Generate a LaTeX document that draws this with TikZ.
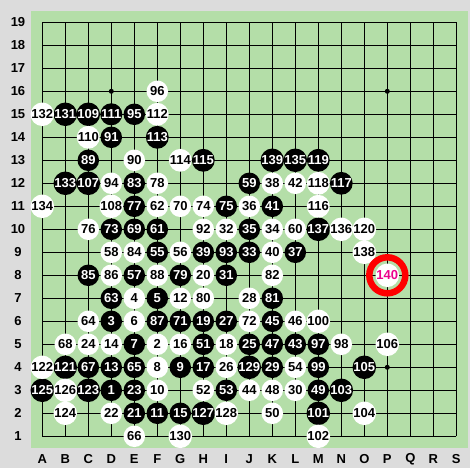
\documentclass[tikz,border=0pt]{standalone}
\usepackage{fontspec}
\setmainfont{Liberation Sans}
\definecolor{boardgreen}{RGB}{180,222,168}
\definecolor{framegray}{RGB}{220,220,220}

\begin{document}
\begin{tikzpicture}[
        x=1pt, y=1pt,
        stone/.style={circle, minimum size=21.5pt, inner sep=0pt, font=\fontsize{13}{13}\selectfont\bfseries},
        bstone/.style={stone, fill=black, text=white},
        wstone/.style={stone, fill=white, text=black},
        coordlabel/.style={font=\fontsize{13}{13}\selectfont\bfseries},
        gridline/.style={line width=1pt},
        hoshi/.style={circle, fill=black, inner sep=0pt, minimum size=5pt},
        lastmark/.style={circle, draw=red, line width=6.5pt, inner sep=0pt, minimum size=36pt}
    ]
        \useasboundingbox (-42.3,-31.7) rectangle (427.7,436.3);
        \fill[framegray] (-42.3,-31.7) rectangle (427.7,436.3);
        \fill[boardgreen] (-11.3,-11.7) rectangle (425.7,425.3);
        \foreach \i in {0,...,18} {
            \draw[gridline] (23*\i,0) -- (23*\i,414);
            \draw[gridline] (0,23*\i) -- (414,23*\i);
        }
        \foreach \c [count=\i from 0] in {A,B,C,D,E,F,G,H,I,J,K,L,M,N,O,P,Q,R,S} {
            \foreach \r in {1,...,19}
                \coordinate (\c\r) at (23*\i,23*\r-23);
            \node[coordlabel] (col\c) at (23*\i,-22.7) {\c};
        }
        \foreach \r in {1,...,19}
            \node[coordlabel] (row\r) at (-24.3,23*\r-23) {\r};
        \foreach \p in {D16,P16,D4,P4}
            \node[hoshi] (hoshi\p) at (\p) {};
        \foreach \p/\n in {D3/1, D6/3, F7/5, E5/7, G4/9, F2/11, D4/13, G2/15, H4/17, H6/19,
                E2/21, E3/23, J5/25, I6/27, K4/29, I8/31, J9/33, J10/35, L9/37, H9/39,
                K11/41, L5/43, K6/45, K5/47, M3/49, H5/51, I3/53, F9/55, E8/57, J12/59,
                F10/61, D7/63, E4/65, C4/67, E10/69, G6/71, D10/73, I11/75, E11/77, G8/79,
                K7/81, E12/83, C8/85, F6/87, C13/89, D14/91, I9/93, E15/95, M5/97, M4/99,
                M2/101, N3/103, O4/105, C12/107, C15/109, D15/111, F14/113, H13/115, N12/117, M13/119,
                B4/121, C3/123, A3/125, H2/127, J4/129, B15/131, B12/133, L13/135, M10/137, K13/139}
            \node[bstone] (s\n) at (\p) {\n};
        \foreach \p/\n in {F5/2, E7/4, E6/6, F4/8, F3/10, G7/12, D5/14, G5/16, I5/18, H8/20,
                D2/22, C5/24, I4/26, J7/28, L3/30, I10/32, K10/34, J11/36, K12/38, K9/40,
                L12/42, J3/44, L6/46, K3/48, K2/50, H3/52, L4/54, G9/56, D9/58, L10/60,
                F11/62, C6/64, E1/66, B5/68, G11/70, J6/72, H11/74, C10/76, F12/78, H7/80,
                K8/82, E9/84, D8/86, F8/88, E13/90, H10/92, D12/94, F16/96, N5/98, M6/100,
                M1/102, O2/104, P5/106, D11/108, C14/110, F15/112, G13/114, M11/116, M12/118, O10/120,
                A4/122, B2/124, B3/126, I2/128, G1/130, A15/132, A11/134, N10/136, O9/138}
            \node[wstone] (s\n) at (\p) {\n};
        \node[wstone, text=magenta] (s140) at (P8) {140};
        \node[lastmark] (mark140) at (s140) {};
    \end{tikzpicture}
\end{document}
